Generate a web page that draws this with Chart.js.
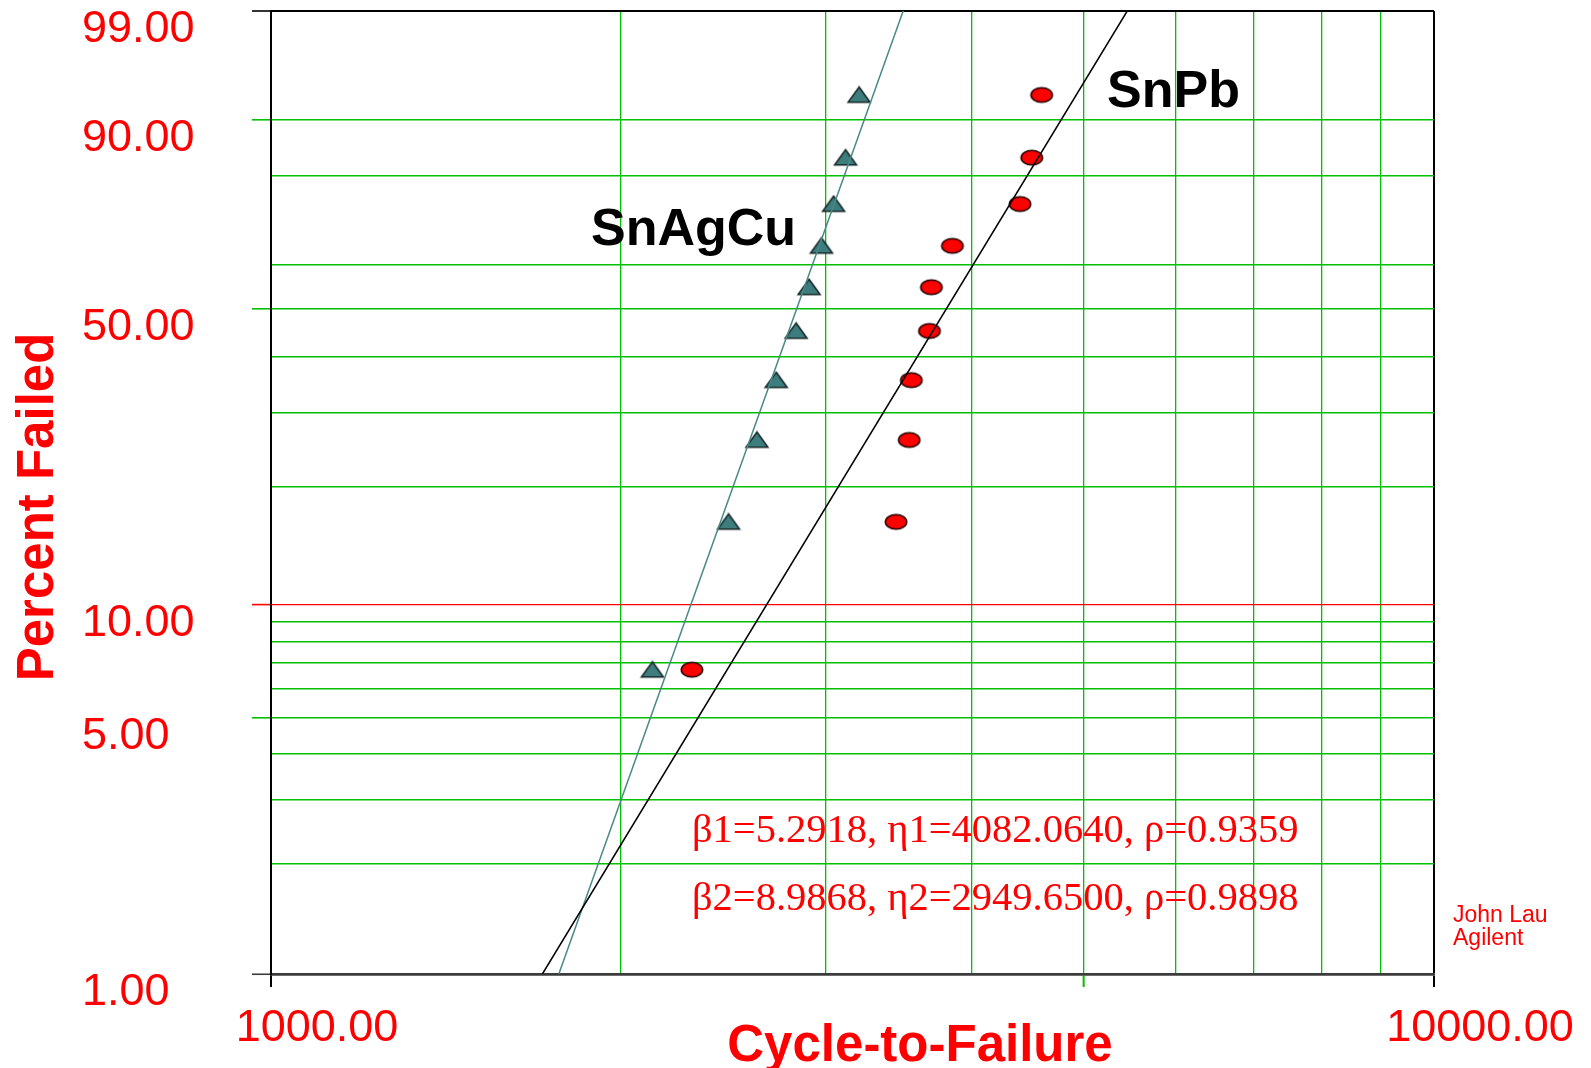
<!DOCTYPE html>
<html>
<head>
<meta charset="utf-8">
<title>Weibull plot - Cycle-to-Failure</title>
<script src="https://cdn.jsdelivr.net/npm/chart.js@4.4.1/dist/chart.umd.min.js"></script>
<style>
  html, body { margin: 0; padding: 0; background: #ffffff; }
</style>
</head>
<body>
<canvas id="weibullChart" width="1591" height="1068"></canvas>
<script>
// median ranks for 10 samples (percent failed)
const rankPct = [6.73, 16.35, 25.96, 35.58, 45.19, 54.81, 64.42, 74.04, 83.65, 93.27];
const snagcuCycles = [2128, 2474, 2617, 2719, 2828, 2902, 2974, 3046, 3119, 3204];
const snpbCycles = [2301, 3447, 3538, 3553, 3683, 3697, 3854, 4406, 4510, 4599];

// fitted Weibull parameters shown on the plot
const snpbFit = { beta: 5.2918, eta: 4082.0640, rho: 0.9359 };
const snagcuFit = { beta: 8.9868, eta: 2949.6500, rho: 0.9898 };
const fitRangePct = [1, 99];

const xTicks = [1000, 2000, 3000, 4000, 5000, 6000, 7000, 8000, 9000, 10000];
const xLabelTicks = [1000, 10000];
const yTicks = [1, 2, 3, 4, 5, 6, 7, 8, 9, 10, 20, 30, 40, 50, 60, 80, 90, 99];
const yLabelTicks = [1, 5, 10, 50, 90, 99];

const RED = '#ff0000';
const GREEN = '#00c000';
const TEAL = '#3e7d7d';
const SANS = '"Liberation Sans", Arial, Helvetica, sans-serif';
const SERIF = '"Liberation Serif", "Times New Roman", serif';

// Weibull probability transform
const weib = p => Math.log(-Math.log(1 - p / 100));

function fitLine(fit) {
    return fitRangePct.map(p => ({
        x: fit.eta * Math.pow(-Math.log(1 - p / 100), 1 / fit.beta),
        y: weib(p)
    }));
}

function trianglePoint() {
    const c = document.createElement('canvas');
    c.width = 26; c.height = 19;
    const g = c.getContext('2d');
    g.beginPath();
    g.moveTo(13, 1.5);
    g.lineTo(24, 16.8);
    g.lineTo(2, 16.8);
    g.closePath();
    g.fillStyle = TEAL;
    g.fill();
    g.lineWidth = 1.5;
    g.strokeStyle = '#142424';
    g.stroke();
    return c;
}

function ellipsePoint() {
    const c = document.createElement('canvas');
    c.width = 26; c.height = 19;
    const g = c.getContext('2d');
    g.beginPath();
    g.ellipse(13, 9.5, 10.7, 7.3, 0, 0, Math.PI * 2);
    g.fillStyle = RED;
    g.fill();
    g.lineWidth = 1.5;
    g.strokeStyle = '#220000';
    g.stroke();
    return c;
}

const textLayer = {
    id: 'textLayer',
    afterDraw(chart) {
        const ctx = chart.ctx;
        ctx.save();

        // axis titles
        ctx.fillStyle = RED;
        ctx.font = 'bold 51px ' + SANS;
        ctx.textAlign = 'center';
        ctx.textBaseline = 'alphabetic';
        ctx.fillText('Cycle-to-Failure', 920, 1061);

        ctx.save();
        ctx.translate(53, 507);
        ctx.rotate(-Math.PI / 2);
        ctx.fillText('Percent Failed', 0, 0);
        ctx.restore();

        // series names
        ctx.fillStyle = '#000000';
        ctx.font = 'bold 52px ' + SANS;
        ctx.textAlign = 'left';
        ctx.fillText('SnAgCu', 591, 245);
        ctx.fillText('SnPb', 1107, 107);

        // fit results
        ctx.fillStyle = RED;
        ctx.font = '40.5px ' + SERIF;
        ctx.fillText('\u03b21=' + snpbFit.beta.toFixed(4) + ', \u03b71=' + snpbFit.eta.toFixed(4) +
            ', \u03c1=' + snpbFit.rho.toFixed(4), 692, 842);
        ctx.fillText('\u03b22=' + snagcuFit.beta.toFixed(4) + ', \u03b72=' + snagcuFit.eta.toFixed(4) +
            ', \u03c1=' + snagcuFit.rho.toFixed(4), 692, 910);

        ctx.font = '23px ' + SANS;
        ctx.fillText('John Lau', 1453, 922);
        ctx.fillText('Agilent', 1453, 945);

        ctx.restore();
    }
};

const xTickColor = v => (v === 1000 || v === 10000) ? '#000000' : (v === 5000 ? GREEN : 'rgba(0,0,0,0)');
const yTickColor = p => {
    if (p === 99) return '#000000';
    if (p === 10) return RED;
    if (p === 1) return '#3c3c3c';
    return yLabelTicks.includes(p) ? GREEN : 'rgba(0,0,0,0)';
};

new Chart(document.getElementById('weibullChart'), {
    type: 'scatter',
    data: {
        datasets: [
            {
                type: 'line',
                label: 'SnPb fit',
                data: fitLine(snpbFit),
                borderColor: '#000000',
                borderWidth: 1.5,
                pointRadius: 0,
                fill: false
            },
            {
                type: 'line',
                label: 'SnAgCu fit',
                data: fitLine(snagcuFit),
                borderColor: '#4a8888',
                borderWidth: 1.5,
                pointRadius: 0,
                fill: false
            },
            {
                label: 'SnAgCu',
                data: snagcuCycles.map((c, i) => ({ x: c, y: weib(rankPct[i]) })),
                pointStyle: trianglePoint(),
                showLine: false
            },
            {
                label: 'SnPb',
                data: snpbCycles.map((c, i) => ({ x: c, y: weib(rankPct[i]) })),
                pointStyle: ellipsePoint(),
                showLine: false
            }
        ]
    },
    options: {
        responsive: false,
        animation: false,
        events: [],
        layout: { padding: { left: 82, top: 11, right: 157, bottom: 0 } },
        plugins: {
            legend: { display: false },
            tooltip: { enabled: false }
        },
        scales: {
            x: {
                type: 'logarithmic',
                min: 1000,
                max: 10000,
                afterBuildTicks: s => { s.ticks = xTicks.map(v => ({ value: v })); },
                afterFit: s => { s.height = 94; s.paddingLeft = 0; s.paddingRight = 0; },
                ticks: {
                    autoSkip: false,
                    maxRotation: 0,
                    minRotation: 0,
                    labelOffset: 46,
                    padding: 19,
                    color: RED,
                    font: { family: SANS, size: 45, lineHeight: 1 },
                    callback: v => xLabelTicks.includes(v) ? Number(v).toFixed(2) : ''
                },
                grid: {
                    color: c => (c.tick.value === 1000 || c.tick.value === 10000) ? '#000000' : GREEN,
                    lineWidth: c => (c.tick.value === 1000 || c.tick.value === 10000) ? 2 : 1.3,
                    tickLength: 13,
                    tickColor: c => xTickColor(c.tick.value),
                    tickWidth: 2
                },
                border: { color: '#3c3c3c', width: 2.5 }
            },
            y: {
                type: 'linear',
                min: weib(1),
                max: weib(99),
                afterBuildTicks: s => { s.ticks = yTicks.map(p => ({ value: weib(p) })); },
                afterFit: s => { s.width = 189; s.paddingTop = 0; s.paddingBottom = 0; },
                ticks: {
                    crossAlign: 'far',
                    labelOffset: 19,
                    padding: 0,
                    color: RED,
                    font: { family: SANS, size: 45, lineHeight: 1 },
                    callback: (v, i) => yLabelTicks.includes(yTicks[i]) ? yTicks[i].toFixed(2) : ''
                },
                grid: {
                    color: c => {
                        const p = yTicks[c.index];
                        if (p === 99) return '#000000';
                        if (p === 10) return RED;
                        if (p === 1) return '#3c3c3c';
                        return GREEN;
                    },
                    lineWidth: c => {
                        const p = yTicks[c.index];
                        if (p === 99) return 2;
                        if (p === 10) return 1.2;
                        if (p === 1) return 2.5;
                        return 1.6;
                    },
                    tickLength: 19,
                    tickColor: c => yTickColor(yTicks[c.index]),
                    tickWidth: 1.6
                },
                border: { color: '#000000', width: 2 }
            }
        }
    },
    plugins: [textLayer]
});
</script>
</body>
</html>
